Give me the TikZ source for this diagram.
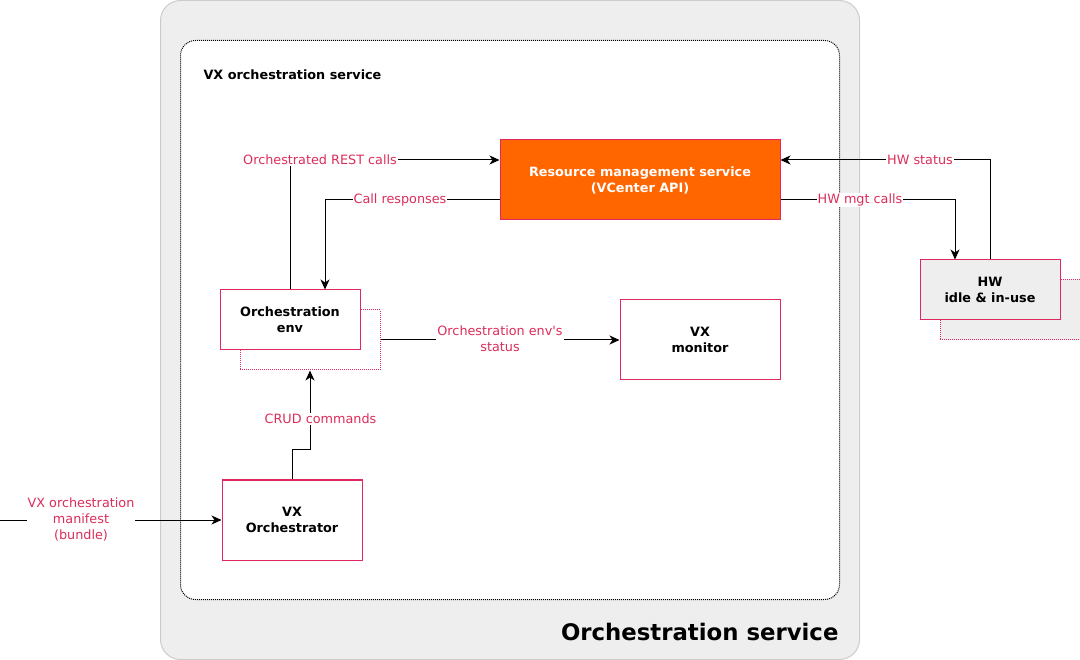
\documentclass[tikz,border=0pt]{standalone}
\usepackage{fontspec}
\setmainfont{DejaVu Sans}[Ligatures=TeXOff]
\usetikzlibrary{arrows.meta}
\definecolor{lblred}{RGB}{220,45,90}
\definecolor{boxstroke}{RGB}{224,40,94}
\definecolor{svcgray}{RGB}{238,238,238}
\definecolor{svcborder}{RGB}{204,204,204}
\definecolor{resorange}{RGB}{255,102,0}
\begin{document}
\begin{tikzpicture}[x=1pt,y=-1pt,
  box/.style={draw=boxstroke, line width=1pt, fill=white, align=center,
    font=\fontsize{12.8}{16}\selectfont\bfseries, inner sep=0pt},
  shadowbox/.style={draw=boxstroke, line width=1pt, dash pattern=on 1pt off 1pt, inner sep=0pt},
  conn/.style={draw=black, line width=1pt, -{Stealth[length=10pt,width=9pt,inset=3pt]}},
  lbl/.style={fill=white, text=lblred, font=\fontsize{12.8}{16}\selectfont, inner sep=1pt, align=center}
]
\useasboundingbox (0,0) rectangle (1080,660);
% outer service
\draw[draw=svcborder, fill=svcgray, line width=1pt, rounded corners=20pt] (160.5,0.5) rectangle (859.5,659.5);
\draw[draw=black, fill=white, line width=1pt, dash pattern=on 1pt off 1pt, rounded corners=15pt] (180.5,40.5) rectangle (839.5,599.5);
\node[anchor=west, font=\fontsize{12.8}{14}\selectfont\bfseries] (svctitle) at (200,75) {VX orchestration service};
\node[anchor=east, font=\fontsize{22.8}{26}\selectfont\bfseries] (outtitle) at (842,632) {Orchestration service};

% shadows
\node[shadowbox, fill=white, minimum width=140pt, minimum height=60pt] (envsh) at (310,340) {};
\node[shadowbox, fill=svcgray, minimum width=140pt, minimum height=60pt] (hwsh) at (1010,310) {};

% boxes
\node[box, fill=resorange, text=white, minimum width=280pt, minimum height=80pt] (res) at (640,180) {Resource management service\\(VCenter API)};
\node[box, minimum width=140pt, minimum height=60pt] (env) at (290,320) {Orchestration\\env};
\node[box, minimum width=160pt, minimum height=80pt] (mon) at (700,340) {VX\\monitor};
\node[box, minimum width=140pt, minimum height=80pt] (orch) at (292,520) {VX\\Orchestrator};
\node[box, fill=svcgray, minimum width=140pt, minimum height=60pt] (hw) at (990,290) {HW\\idle \& in-use};

% connectors
\coordinate (src) at (0,520);
\draw[conn] (env.north) |- ([yshift=20pt]res.west);
\draw[conn] ([yshift=-20pt]res.west) -| ([xshift=35pt]env.north);
\draw[conn] (envsh.east) -- (mon.west);
\draw[conn] (orch.north) -- ++(0,-30) -| (envsh.south);
\draw[conn] (src) -- (orch.west);
\draw[conn] ([yshift=-20pt]res.east) -| ([xshift=-35pt]hw.north);
\draw[conn] (hw.north) |- ([yshift=20pt]res.east);

% labels
\node[lbl] (l1) at (320,160) {Orchestrated REST calls};
\node[lbl] (l2) at (400,200) {Call responses};
\node[lbl] (l3) at (500,339) {Orchestration env's\\status};
\node[lbl] (l4) at (320.5,419) {CRUD commands};
\node[lbl] (l5) at (81,519) {VX orchestration\\manifest\\(bundle)};
\node[lbl] (l6) at (860,200) {HW mgt calls};
\node[lbl] (l7) at (920,160) {HW status};
\end{tikzpicture}
\end{document}
